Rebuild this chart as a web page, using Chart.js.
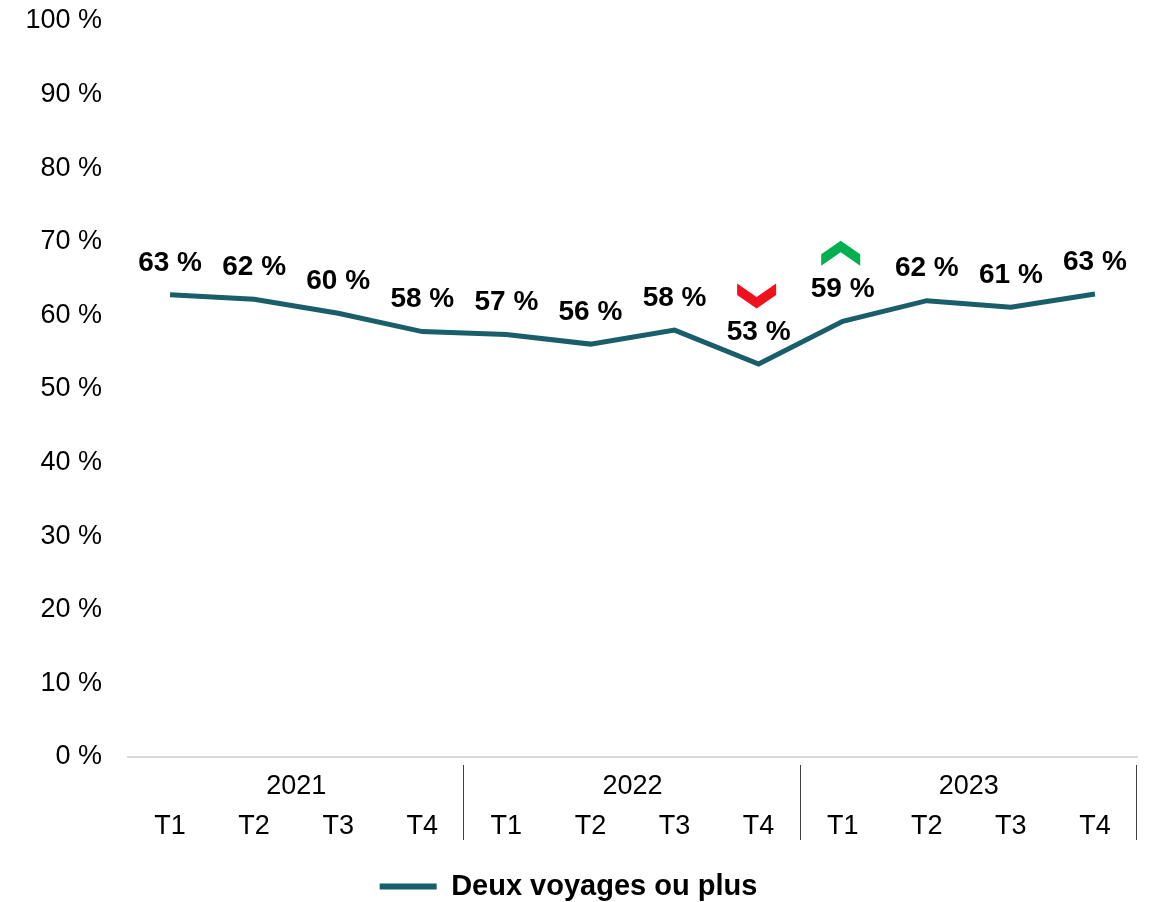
<!DOCTYPE html>
<html>
<head>
<meta charset="utf-8">
<script src="https://cdn.jsdelivr.net/npm/chart.js@4.4.1/dist/chart.umd.min.js"></script>
<style>
  body { margin: 0; background: #fff; }
  #wrap { width: 1155px; height: 902px; }
</style>
</head>
<body>
<div id="wrap"><canvas id="chart"></canvas></div>
<script>
// data
const quarters = ['T1', 'T2', 'T3', 'T4', 'T1', 'T2', 'T3', 'T4', 'T1', 'T2', 'T3', 'T4'];
const years = ['2021', '2022', '2023'];
const twoTripsShare = [62.8, 62.2, 60.3, 57.8, 57.4, 56.1, 58.0, 53.4, 59.2, 62.0, 61.1, 62.9];
const trendArrows = ['', '', '', '', '', '', '', 'down', 'up', '', '', ''];
const yTicks = [0, 10, 20, 30, 40, 50, 60, 70, 80, 90, 100];

const lineColor = '#195e68';
const fontFam = "Arial, 'Liberation Sans', sans-serif";

Chart.defaults.font.family = fontFam;
Chart.defaults.color = '#000';

// value labels + the red/green chevrons
const labelsPlugin = {
  id: 'valueLabels',
  afterDatasetsDraw(chart) {
    const ctx = chart.ctx;
    const meta = chart.getDatasetMeta(0);
    ctx.save();
    ctx.font = 'bold 28px ' + fontFam;
    ctx.fillStyle = '#000';
    ctx.textAlign = 'center';
    ctx.textBaseline = 'middle';
    meta.data.forEach((pt, i) => {
      ctx.fillText(Math.round(twoTripsShare[i]) + ' %', pt.x, pt.y - 32);
      const dir = trendArrows[i];
      if (!dir) return;
      const cx = pt.x - 2, cy = pt.y - 68;
      const s = dir === 'down' ? 1 : -1;
      ctx.beginPath();
      ctx.moveTo(cx - 19.5, cy - 12.5 * s);
      ctx.lineTo(cx, cy + 1 * s);
      ctx.lineTo(cx + 19.5, cy - 12.5 * s);
      ctx.lineTo(cx + 19.5, cy - 1 * s);
      ctx.lineTo(cx, cy + 12.5 * s);
      ctx.lineTo(cx - 19.5, cy - 1 * s);
      ctx.closePath();
      ctx.fillStyle = dir === 'down' ? '#f0101e' : '#00b050';
      ctx.fill();
      ctx.fillStyle = '#000';
    });
    ctx.restore();
  }
};

// year row and the group separators under the x axis
const yearAxisPlugin = {
  id: 'yearAxis',
  afterDraw(chart) {
    const ctx = chart.ctx;
    const x = chart.scales.x;
    const area = chart.chartArea;
    ctx.save();
    ctx.font = '27px ' + fontFam;
    ctx.fillStyle = '#000';
    ctx.textAlign = 'center';
    ctx.textBaseline = 'middle';
    ctx.strokeStyle = '#404040';
    ctx.lineWidth = 1;
    years.forEach((yr, g) => {
      const first = g * 4, last = g * 4 + 3;
      const mid = (x.getPixelForValue(first + 1) + x.getPixelForValue(first + 2)) / 2;
      ctx.fillText(yr, mid, area.bottom + 30);
      let edge;
      if (last + 1 < quarters.length) {
        edge = (x.getPixelForValue(last) + x.getPixelForValue(last + 1)) / 2;
      } else {
        edge = area.right;
      }
      edge = Math.round(edge) - 0.5;
      ctx.beginPath();
      ctx.moveTo(edge, area.bottom + 8);
      ctx.lineTo(edge, area.bottom + 83);
      ctx.stroke();
    });
    ctx.restore();
  }
};

new Chart(document.getElementById('chart'), {
  type: 'line',
  data: {
    labels: quarters,
    datasets: [{
      label: 'Deux voyages ou plus',
      data: twoTripsShare,
      borderColor: lineColor,
      backgroundColor: lineColor,
      borderWidth: 5,
      pointRadius: 0,
      tension: 0,
      fill: false
    }]
  },
  options: {
    responsive: true,
    maintainAspectRatio: false,
    animation: false,
    layout: { padding: { top: 21, right: 18, left: 0, bottom: -9 } },
    plugins: {
      tooltip: { enabled: false },
      legend: {
        position: 'bottom',
        labels: {
          font: { size: 29, weight: 'bold' },
          color: '#000',
          boxWidth: 57,
          boxHeight: 6,
          padding: 0,
          generateLabels: (chart) => [{
            text: chart.data.datasets[0].label,
            fillStyle: lineColor,
            strokeStyle: lineColor,
            lineWidth: 0,
            datasetIndex: 0
          }]
        }
      }
    },
    scales: {
      x: {
        offset: true,
        grid: { display: false, drawTicks: false },
        border: { color: '#d9d9d9', width: 2 },
        ticks: { font: { size: 27 }, color: '#000', padding: 53, maxRotation: 0, autoSkip: false },
        afterFit: (s) => { s.height = 115; s.paddingLeft = 0; s.paddingRight = 0; }
      },
      y: {
        min: 0,
        max: 100,
        afterBuildTicks: (s) => { s.ticks = yTicks.map(v => ({ value: v })); },
        grid: { display: false, drawTicks: false },
        border: { display: false },
        ticks: { font: { size: 27 }, color: '#000', padding: 26, callback: (v) => v + ' %' },
        afterFit: (s) => { s.width = 128; s.paddingTop = 0; s.paddingBottom = 0; }
      }
    }
  },
  plugins: [labelsPlugin, yearAxisPlugin]
});
</script>
</body>
</html>
